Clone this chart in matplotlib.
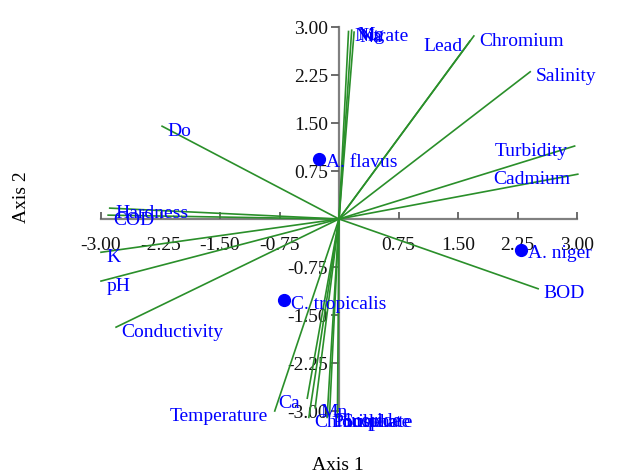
import matplotlib
matplotlib.use("Agg")
from matplotlib import pyplot as plt

plt.rcParams['font.family'] = ['Liberation Serif', 'DejaVu Serif']

# variable loadings (axis 1, axis 2)
variables = ['Do', 'Hardness', 'COD', 'K', 'pH', 'Conductivity', 'Temperature',
             'Ca', 'Mn', 'Chloride', 'Fluoride', 'Phosphate', 'Sulphate',
             'Nitrate', 'Mg', 'Na', 'Lead', 'Chromium', 'Salinity',
             'Turbidity', 'Cadmium', 'BOD']
load_x = [-2.23, -2.89, -2.91, -3.00, -3.00, -2.81, -0.81,
          -0.40, -0.30, -0.38, -0.12, -0.15, -0.02,
          0.12, 0.16, 0.19, 1.65, 1.70, 2.41,
          2.97, 3.01, 2.51]
load_y = [1.45, 0.17, 0.06, -0.52, -0.97, -1.69, -3.00,
          -2.80, -2.95, -3.10, -3.08, -3.10, -3.10,
          2.93, 2.95, 2.92, 2.78, 2.86, 2.30,
          1.14, 0.70, -1.09]
# labels drawn to the left of the line end
right_aligned = ['Temperature', 'Ca', 'Lead', 'Turbidity', 'Cadmium']

# species scores
species = ['A. flavus', 'C. tropicalis', 'A. niger']
score_x = [-0.25, -0.69, 2.29]
score_y = [0.94, -1.27, -0.48]

ticks = [-3.00, -2.25, -1.50, -0.75, 0.75, 1.50, 2.25, 3.00]

fs = 14

fig = plt.figure(figsize=(6.17, 4.77), dpi=100)
ax = fig.add_axes([101 / 617, 65 / 477, 476 / 617, 384 / 477])

for name, x, y in zip(variables, load_x, load_y):
    ax.plot([0, x], [0, y], color='#2a8f2a', lw=1.2, clip_on=False)
    if name in right_aligned:
        ax.annotate(name, (x, y), xytext=(-5, -3), textcoords='offset points',
                    ha='right', va='center', color='blue', fontsize=fs,
                    annotation_clip=False)
    else:
        ax.annotate(name, (x, y), xytext=(4, -3), textcoords='offset points',
                    ha='left', va='center', color='blue', fontsize=fs,
                    annotation_clip=False)

ax.plot(score_x, score_y, 'o', color='blue', ms=8.5, clip_on=False, zorder=5)
for name, x, y in zip(species, score_x, score_y):
    ax.annotate(name, (x, y), xytext=(5, -2), textcoords='offset points',
                ha='left', va='center', color='blue', fontsize=fs,
                annotation_clip=False)

ax.set_xlim(-3, 3)
ax.set_ylim(-3, 3)
ax.spines['left'].set_position(('data', 0))
ax.spines['bottom'].set_position(('data', 0))
ax.spines['right'].set_visible(False)
ax.spines['top'].set_visible(False)
for s in ['left', 'bottom']:
    ax.spines[s].set_color('#808080')
    ax.spines[s].set_linewidth(1.6)
    ax.spines[s].set_zorder(1)

ax.set_xticks(ticks)
ax.set_yticks(ticks)
ax.set_xticklabels(['%.2f' % t for t in ticks])
ax.set_yticklabels(['%.2f' % t for t in ticks])
ax.tick_params(axis='x', direction='in', length=5, width=1.3, color='#606060',
               pad=12, labelsize=fs, labelcolor='#111111')
ax.tick_params(axis='y', direction='out', length=6, width=1.3, color='#606060',
               pad=2, labelsize=fs, labelcolor='#111111')
ax.patch.set_visible(False)

fig.text(338 / 617, 1 - 466 / 477, 'Axis 1', ha='center', va='center', fontsize=fs)
fig.text(22 / 617, 1 - 197 / 477, 'Axis 2', ha='center', va='center',
         rotation=90, fontsize=fs)

plt.savefig('out.png', dpi=100)
